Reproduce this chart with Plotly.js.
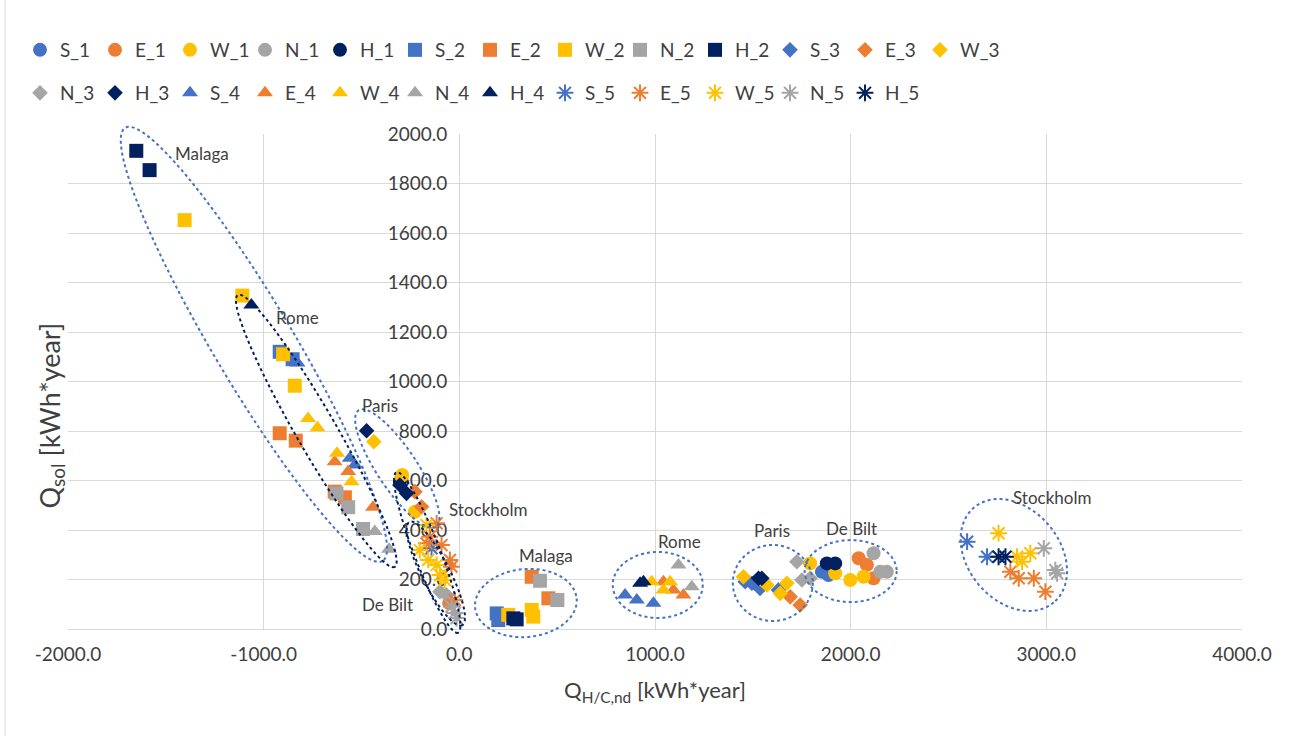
<!DOCTYPE html>
<html><head><meta charset="utf-8">
<script src="https://cdn.plot.ly/plotly-3.0.1.min.js"></script>
<style>html,body{margin:0;padding:0;background:#fff}#chart{width:1289px;height:736px}</style>
</head><body><div id="chart"></div>
<script>
// ---- data ----
const S_1_x = [1853, 1887];                     const S_1_y = [231, 218];
const E_1_x = [2041, 2083, 2117, -52];          const E_1_y = [286, 259, 205, 105];
const W_1_x = [1793, 1921, 1998, 2066, -292, -227]; const W_1_y = [265, 225, 198, 211, 622, 474];
const N_1_x = [2117, 2151, 2185];               const N_1_y = [306, 231, 231];
const H_1_x = [1878, 1921, -304];               const H_1_y = [265, 265, 595];
const S_2_x = [-918, -852, 191, 199];           const S_2_y = [1120, 1090, 63, 36];
const E_2_x = [-918, -836, -637, -585, 370, 455]; const E_2_y = [791, 761, 555, 532, 211, 124];
const W_2_x = [-1404, -1109, -901, -841, 250, 370, 378]; const W_2_y = [1652, 1347, 1110, 983, 57, 77, 50];
const N_2_x = [-628, -568, -492, 412, 501];     const N_2_y = [548, 492, 404, 195, 117];
const H_2_x = [-1651, -1583, 276, 293];         const H_2_y = [1932, 1854, 43, 39];
const S_3_x = [1461, 1495, 1537, 1631];         const S_3_y = [191, 185, 164, 158];
const E_3_x = [1691, 1742, -227, -193];         const E_3_y = [130, 97, 555, 494];
const W_3_x = [1452, 1572, 1640, 1674, -437, -297]; const W_3_y = [211, 178, 144, 185, 757, 610];
const N_3_x = [1725, 1751, 1793, -99, -65];     const N_3_y = [272, 198, 205, 151, 137];
const H_3_x = [1529, 1546, -474, -304, -270];   const H_3_y = [205, 205, 801, 582, 548];
const S_4_x = [847, 907, 992, -827, -560, -534]; const S_4_y = [137, 117, 104, 1075, 690, 663];
const E_4_x = [1043, 1094, 1145, -637, -568, -441]; const E_4_y = [191, 158, 137, 676, 636, 492];
const W_4_x = [983, 1043, 1077, -773, -725, -625, -551]; const W_4_y = [191, 158, 191, 851, 813, 710, 595];
const N_4_x = [1120, 1188, -432, -359];         const N_4_y = [259, 171, 394, 322];
const H_4_x = [924, 941, -1063];                const H_4_y = [185, 191, 1309];
const S_5_x = [2595, 2697, -142];               const S_5_y = [353, 292, 326];
const E_5_x = [2816, 2859, 2936, 2995, -116, -168, -151, -91, -48, -40, -23];
const E_5_y = [231, 205, 205, 151, 427, 346, 373, 339, 279, 252, 117];
const W_5_x = [2756, 2850, 2876, 2918, -168, -202, -159, -116, -99, -74];
const W_5_y = [387, 292, 272, 306, 420, 319, 279, 259, 218, 198];
const N_5_x = [2987, 3046, 3055, -40, -23, -14]; const N_5_y = [326, 238, 225, 90, 65, 44];
const H_5_x = [2756, 2791];                     const H_5_y = [292, 292];

const seriesNames = ['S_1','E_1','W_1','N_1','H_1','S_2','E_2','W_2','N_2','H_2','S_3','E_3','W_3',
                     'N_3','H_3','S_4','E_4','W_4','N_4','H_4','S_5','E_5','W_5','N_5','H_5'];
const seriesX = [S_1_x,E_1_x,W_1_x,N_1_x,H_1_x,S_2_x,E_2_x,W_2_x,N_2_x,H_2_x,S_3_x,E_3_x,W_3_x,
                 N_3_x,H_3_x,S_4_x,E_4_x,W_4_x,N_4_x,H_4_x,S_5_x,E_5_x,W_5_x,N_5_x,H_5_x];
const seriesY = [S_1_y,E_1_y,W_1_y,N_1_y,H_1_y,S_2_y,E_2_y,W_2_y,N_2_y,H_2_y,S_3_y,E_3_y,W_3_y,
                 N_3_y,H_3_y,S_4_y,E_4_y,W_4_y,N_4_y,H_4_y,S_5_y,E_5_y,W_5_y,N_5_y,H_5_y];

const xTickVals = [-2000, -1000, 0, 1000, 2000, 3000, 4000];
const xTickText = ['-2000.0', '-1000.0', '0.0', '1000.0', '2000.0', '3000.0', '4000.0'];
const yTickVals = [0, 200, 400, 600, 800, 1000, 1200, 1400, 1600, 1800, 2000];
const yTickText = ['0.0','200.0','400.0','600.0','800.0','1000.0','1200.0','1400.0','1600.0','1800.0','2000.0'];

const cityLabels = ['Malaga','Rome','Paris','Stockholm','De Bilt','Malaga','Rome','Paris','De Bilt','Stockholm'];
const cityLabelX = [-1315, -825, -406, 146, -365, 442, 1127, 1597, 2006, 3028];
const cityLabelY = [1923, 1257, 905, 481, 97, 295, 352, 400, 408, 533];

// ---- styles ----
const colorOf = {S:'#4472C4', E:'#ED7D31', W:'#FFC000', N:'#A5A5A5', H:'#002060'};
const symbolOf = {'1':'circle','2':'square','3':'diamond','4':'triangle-up','5':'asterisk-open'};
const sizeOf = {'1':14,'2':14,'3':12,'4':14,'5':14};
const FONT = 'Lato, "Open Sans", sans-serif';
const TXT = '#404040';

const W = 1289, H = 736;
const M = {l:68, r:47, t:134, b:107};
const pw = W - M.l - M.r, ph = H - M.t - M.b;
const XR = [-2000, 4000], YR = [0, 2000];
const kx = pw / (XR[1]-XR[0]), ky = ph / (YR[1]-YR[0]);

const traces = seriesNames.map((n, i) => {
  const L = n[0], k = n[2];
  const open = k === '5';
  return {
    type:'scatter', mode:'markers', name:n, x:seriesX[i], y:seriesY[i],
    legend: i < 13 ? 'legend' : 'legend2',
    marker:{symbol:symbolOf[k], size:sizeOf[k], color:colorOf[L],
            line:{width: open ? 2 : 0, color:colorOf[L]}},
    hoverinfo:'x+y+name'
  };
});
// invisible spacer entries so the last legend label of each row is not clipped
['legend','legend2'].forEach(lg => traces.push({type:'scatter', mode:'markers', name:' ', x:[null], y:[null],
  legend:lg, marker:{color:'rgba(0,0,0,0)', size:1, line:{width:0, color:'rgba(0,0,0,0)'}}, hoverinfo:'skip'}));

// highlight ellipses: centre in data units, semi-axes in px, angle in screen degrees
const ellipses = [
  {cx:-1050, cy:1150, a:252, b:40, ang:59.3, c:'#4472C4'},
  {cx:-731, cy:800, a:157, b:20, ang:60, c:'#002060'},
  {cx:-317, cy:648, a:70, b:20, ang:56.4, c:'#4472C4'},
  {cx:-164, cy:309, a:86, b:13, ang:69, c:'#002060'},
  {cx:-120, cy:224, a:58, b:14, ang:63, c:'#002060'},
  {cx:340, cy:105, a:51, b:34, ang:-5, c:'#4472C4'},
  {cx:1014, cy:178, a:45, b:33, ang:0, c:'#4472C4'},
  {cx:1602, cy:186, a:40, b:38, ang:0, c:'#4472C4'},
  {cx:2000, cy:234, a:46, b:31, ang:0, c:'#4472C4'},
  {cx:2834, cy:299, a:62, b:46, ang:50, c:'#4472C4'}
];
// path built in paper coordinates so it is not clipped at the plot edge
function ellipsePath(e){
  const th = e.ang*Math.PI/180, pts = [];
  for(let i=0;i<=96;i++){
    const t = i/96*2*Math.PI;
    const dx = e.a*Math.cos(t)*Math.cos(th) - e.b*Math.sin(t)*Math.sin(th);
    const dy = e.a*Math.cos(t)*Math.sin(th) + e.b*Math.sin(t)*Math.cos(th);
    const xd = e.cx + dx/kx, yd = e.cy - dy/ky;
    const xp = (xd - XR[0])/(XR[1]-XR[0]), yp = (yd - YR[0])/(YR[1]-YR[0]);
    pts.push(xp.toFixed(5) + ',' + yp.toFixed(5));
  }
  return 'M' + pts.join('L') + 'Z';
}
const shapes = ellipses.map(e => ({type:'path', xref:'paper', yref:'paper', path:ellipsePath(e),
  line:{color:e.c, width:2, dash:'dot'}, layer:'above'}));
shapes.push({type:'line', xref:'paper', yref:'paper', x0:(5-M.l)/pw, x1:(5-M.l)/pw,
  y0:-(M.b)/ph, y1:(M.t)/ph + 1, line:{color:'#d9d9d9', width:1}});

const annotations = cityLabels.map((t, i) => ({text:t, x:cityLabelX[i], y:cityLabelY[i],
  xref:'x', yref:'y', showarrow:false, font:{family:FONT, size:17, color:TXT}}));
annotations.push({text:'Q<sub>sol</sub> [kWh*year]', xref:'paper', yref:'paper',
  x:(30-M.l)/pw, y:(M.t+ph-416)/ph, textangle:-90, showarrow:false,
  font:{family:FONT, size:27, color:TXT}});

const legendBase = {orientation:'h', xref:'container', yref:'container', xanchor:'left', yanchor:'middle',
  x:20/W, entrywidth:30, itemwidth:30, font:{family:FONT, size:19, color:TXT},
  bgcolor:'rgba(0,0,0,0)', tracegroupgap:0};

const layout = {
  width:W, height:H, margin:M, paper_bgcolor:'#fff', plot_bgcolor:'#fff',
  font:{family:FONT, color:TXT},
  showlegend:true,
  legend:Object.assign({}, legendBase, {y:1-50/H}),
  legend2:Object.assign({}, legendBase, {y:1-93/H}),
  xaxis:{range:XR, tickmode:'array', tickvals:xTickVals, ticktext:xTickText, showgrid:true, gridcolor:'#d9d9d9',
    zeroline:true, zerolinecolor:'#d9d9d9', zerolinewidth:1, showline:false, ticks:'',
    ticklabelstandoff:12, layer:'below traces', tickfont:{family:FONT, size:19, color:TXT},
    title:{text:'Q<sub>H/C,nd</sub> [kWh*year]', font:{family:FONT, size:22, color:TXT}, standoff:18}},
  yaxis:{range:YR, tickmode:'array', tickvals:yTickVals, ticktext:yTickText, showgrid:true, gridcolor:'#d9d9d9',
    zeroline:true, zerolinecolor:'#d9d9d9', zerolinewidth:1, showline:false, ticks:'',
    anchor:'free', position:(0-XR[0])/(XR[1]-XR[0]), ticklabelstandoff:12, layer:'below traces',
    tickfont:{family:FONT, size:19, color:TXT}},
  shapes:shapes, annotations:annotations
};

Plotly.newPlot('chart', traces, layout, {displayModeBar:false, staticPlot:true});
</script></body></html>
